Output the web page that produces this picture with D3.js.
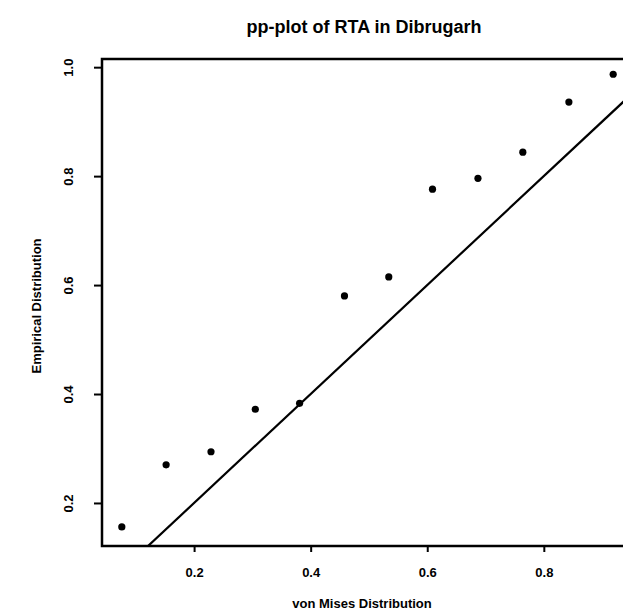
<!DOCTYPE html>
<html>
<head>
<meta charset="utf-8">
<script src="https://cdn.jsdelivr.net/npm/d3@7"></script>
<style>
  html, body { margin: 0; padding: 0; background: #fff; overflow: hidden; }
  svg { display: block; }
  text { font-family: "Liberation Sans", Arial, sans-serif; fill: #000; }
</style>
</head>
<body>
<div id="chart"></div>
<script>
// ---- data ----
const titleText = "pp-plot of RTA in Dibrugarh";
const xLabel = "von Mises Distribution";
const yLabel = "Empirical Distribution";
const theoretical = [0.076, 0.152, 0.229, 0.305, 0.381, 0.458, 0.534, 0.609, 0.687, 0.764, 0.843, 0.919];
const empirical   = [0.156, 0.270, 0.294, 0.372, 0.383, 0.580, 0.615, 0.776, 0.796, 0.844, 0.936, 0.987];
const xTicks = [0.2, 0.4, 0.6, 0.8];
const yTicks = [0.2, 0.4, 0.6, 0.8, 1.0];
const refLine = [0, 1]; // y = x reference line

// ---- layout ----
const W = 623, H = 612;
const pLeft = 102, pTop = 59, pRight = 633, pBottom = 546;

const svg = d3.select("#chart").append("svg").attr("width", W).attr("height", H);

const x = d3.scaleLinear().domain([0.042, 0.953]).range([pLeft, pRight]);
const y = d3.scaleLinear().domain([0.121, 1.015]).range([pBottom, pTop]);

svg.append("defs").append("clipPath").attr("id", "clip")
  .append("rect").attr("x", pLeft).attr("y", pTop).attr("width", pRight - pLeft).attr("height", pBottom - pTop);

// title
svg.append("text").attr("x", 364).attr("y", 33).attr("text-anchor", "middle")
  .attr("font-size", 18).attr("font-weight", "bold").text(titleText);

// reference line
svg.append("line").attr("clip-path", "url(#clip)")
  .attr("x1", x(refLine[0])).attr("y1", y(refLine[0]))
  .attr("x2", x(refLine[1])).attr("y2", y(refLine[1]))
  .attr("stroke", "#000").attr("stroke-width", 2.2);

// points
svg.append("g").selectAll("circle").data(theoretical).join("circle")
  .attr("cx", (d) => x(d)).attr("cy", (d, i) => y(empirical[i]))
  .attr("r", 3.6).attr("fill", "#000");

// frame
svg.append("rect").attr("x", pLeft).attr("y", pTop).attr("width", pRight - pLeft).attr("height", pBottom - pTop)
  .attr("fill", "none").attr("stroke", "#000").attr("stroke-width", 2.5);

// x axis
const xAxis = d3.axisBottom(x).tickValues(xTicks).tickSize(6).tickPadding(16)
  .tickFormat(d3.format(".1f"));
const gx = svg.append("g").attr("transform", `translate(0,${pBottom})`).call(xAxis);
gx.select(".domain").remove();
gx.selectAll(".tick line").attr("stroke-width", 2);
gx.selectAll(".tick text").attr("font-size", 13).attr("font-weight", "bold")
  .attr("font-family", "Liberation Sans, Arial, sans-serif");

// y axis (labels parallel to axis)
const yAxis = d3.axisLeft(y).tickValues(yTicks).tickSize(8).tickPadding(0)
  .tickFormat(d3.format(".1f"));
const gy = svg.append("g").attr("transform", `translate(${pLeft},0)`).call(yAxis);
gy.select(".domain").remove();
gy.selectAll(".tick line").attr("stroke-width", 2);
gy.selectAll(".tick text")
  .attr("x", null)
  .attr("text-anchor", "middle")
  .attr("transform", "translate(-34,0) rotate(-90)")
  .attr("dy", "0.35em")
  .attr("font-size", 13).attr("font-weight", "bold")
  .attr("font-family", "Liberation Sans, Arial, sans-serif");

// axis titles
svg.append("text").attr("x", 362).attr("y", 608).attr("text-anchor", "middle")
  .attr("font-size", 13).attr("font-weight", "bold").text(xLabel);
svg.append("text").attr("transform", "translate(41,306) rotate(-90)").attr("text-anchor", "middle")
  .attr("font-size", 13).attr("font-weight", "bold").text(yLabel);
</script>
</body>
</html>
